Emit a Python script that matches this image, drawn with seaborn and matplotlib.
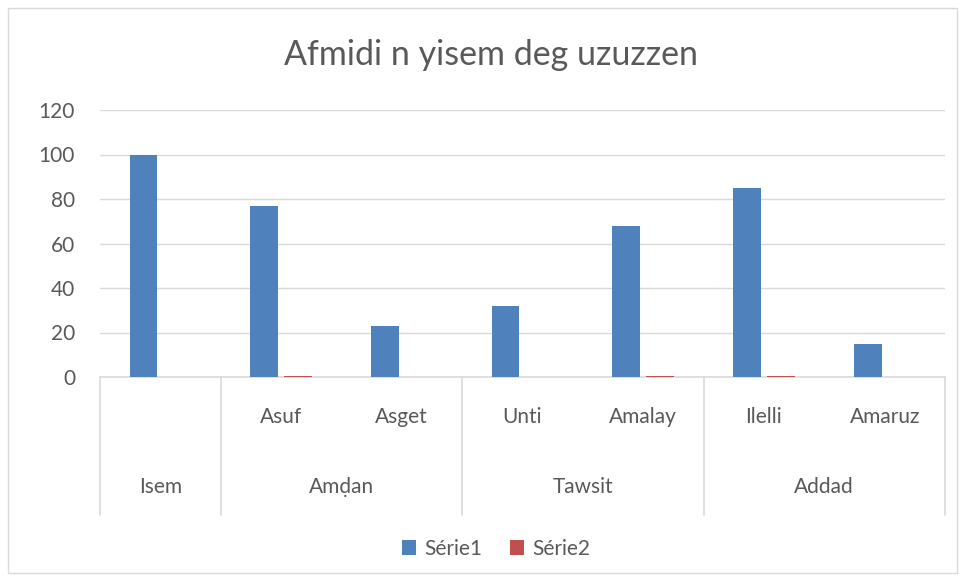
import numpy as np
import pandas as pd
import matplotlib
matplotlib.use("Agg")
import matplotlib.pyplot as plt
import matplotlib.transforms as mtransforms
from matplotlib.patches import Rectangle
import seaborn as sns

# chart data
slots = ["Isem", "Asuf", "Asget", "Unti", "Amalay", "Ilelli", "Amaruz"]
sub_labels = ["", "Asuf", "Asget", "Unti", "Amalay", "Ilelli", "Amaruz"]
groups = ["Isem", "Amḍan", "Tawsit", "Addad"]
group_spans = [(0, 0), (1, 2), (3, 4), (5, 6)]
serie1 = [100, 77, 23, 32, 68, 85, 15]
serie2 = [0, 0.6, 0, 0, 0.6, 0.6, 0]
series_names = ["Série1", "Série2"]
title = "Afmidi n yisem deg uzuzzen"

df = pd.DataFrame({
    "slot": slots * 2,
    "serie": [series_names[0]] * len(slots) + [series_names[1]] * len(slots),
    "value": serie1 + serie2,
})

sns.set_style("white")
plt.rcParams["font.family"] = ["Lato", "DejaVu Sans"]
text_col = "#595959"
grid_col = "#d9d9d9"
fs = 15

W, H = 964, 579
fig = plt.figure(figsize=(W / 100, H / 100), dpi=100)
ax = fig.add_axes([100 / W, (H - 377) / H, (945 - 100) / W, (377 - 110) / H])

sns.barplot(data=df, x="slot", y="value", hue="serie", order=slots,
            hue_order=series_names, palette=["#4F81BD", "#C0504D"],
            saturation=1, width=0.56, gap=0.18, linewidth=0,
            ax=ax, legend=True, zorder=3)

ax.set_ylim(0, 120)
ax.set_xlim(-0.5, len(slots) - 0.5)
ax.set_yticks(np.arange(0, 121, 20))
ax.tick_params(axis="y", length=0, labelsize=fs, labelcolor=text_col, pad=18)
ax.set_xticks([])
ax.set_xlabel("")
ax.set_ylabel("")
ax.yaxis.grid(True, color=grid_col, linewidth=1)
ax.set_axisbelow(True)
for s in ["top", "right", "left"]:
    ax.spines[s].set_visible(False)
ax.spines["bottom"].set_color(grid_col)
ax.spines["bottom"].set_linewidth(1.2)
ax.spines["bottom"].set_zorder(1)

# multi-level category axis
trans = mtransforms.blended_transform_factory(ax.transData, ax.transAxes)
ax_h = 377 - 110
for i, lab in enumerate(sub_labels):
    if lab:
        ax.text(i, -40 / ax_h, lab, transform=trans, ha="center", va="center",
                fontsize=fs, color=text_col)
for g, (a, b) in zip(groups, group_spans):
    ax.text((a + b) / 2, -110 / ax_h, g, transform=trans, ha="center",
            va="center", fontsize=fs, color=text_col)
for xb in [-0.5, 0.5, 2.5, 4.5, 6.5]:
    ax.plot([xb, xb], [0, -138 / ax_h], transform=trans, color=grid_col,
            linewidth=1.2, clip_on=False)

fig.text(491 / W, 1 - 55 / H, title, ha="center", va="center",
         fontsize=24.5, color=text_col)

handles, labels = ax.get_legend_handles_labels()
ax.get_legend().remove()
fig.legend(handles, labels, loc="center", bbox_to_anchor=(496 / W, 1 - 549 / H),
           ncol=2, frameon=False, fontsize=fs, labelcolor=text_col,
           handlelength=0.7, handleheight=0.7, handletextpad=0.4,
           columnspacing=1.3)

fig.patches.append(Rectangle((8 / W, 6 / H), 949 / W, 565 / H,
                             transform=fig.transFigure, fill=False,
                             edgecolor=grid_col, linewidth=1))

fig.savefig("out.png", dpi=100)
